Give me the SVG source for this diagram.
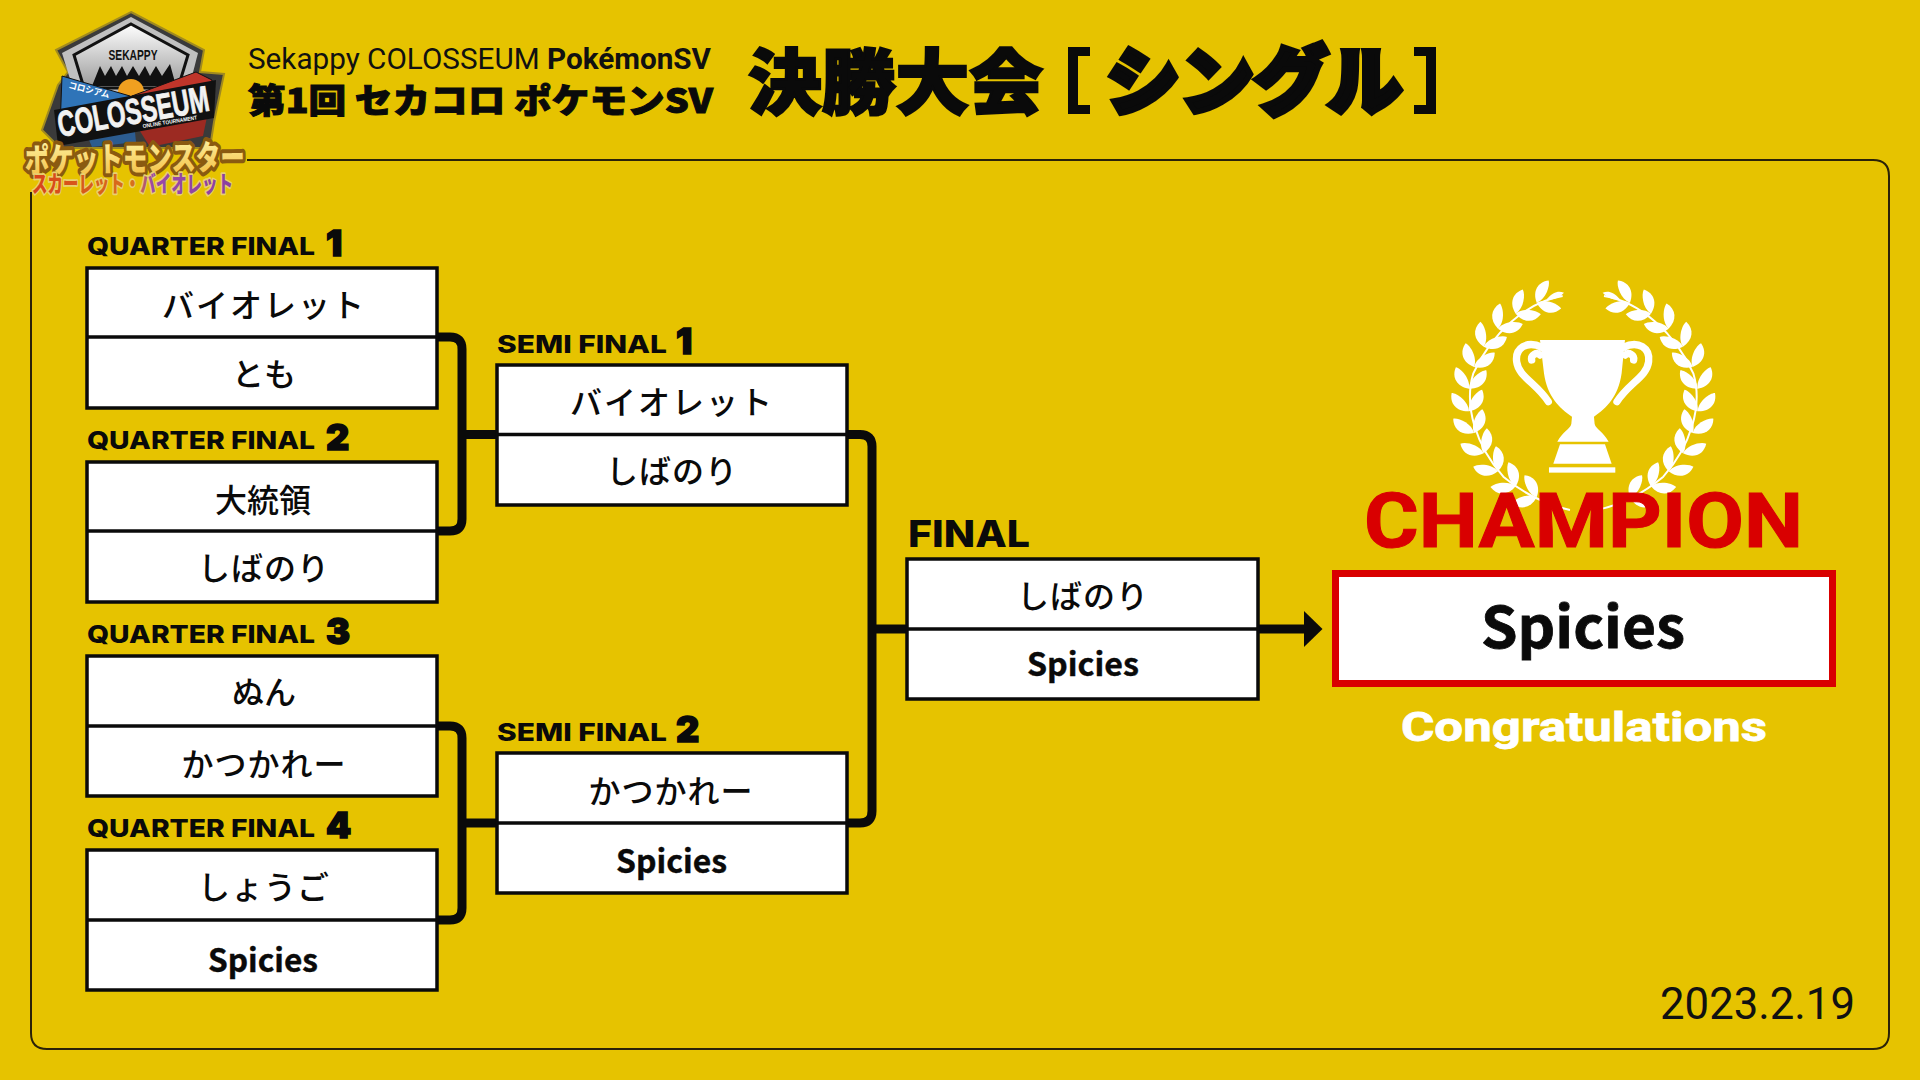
<svg xmlns="http://www.w3.org/2000/svg" width="1920" height="1080" viewBox="0 0 1920 1080">
<style>
.box{fill:#fff;stroke:#0a0a0a;stroke-width:3.500}
.div{stroke:#0a0a0a;stroke-width:3.500}
.conn{fill:none;stroke:#0a0a0a;stroke-width:9}
.n{font-family:"Noto Sans CJK JP","Noto Sans",sans-serif;font-size:32px;font-weight:500;fill:#0a0a0a;text-anchor:middle}
.b{font-family:"Noto Sans CJK JP","Noto Sans",sans-serif;font-size:32px;font-weight:700;fill:#0a0a0a;stroke:#0a0a0a;stroke-width:.4}
.lab{font-family:Inter,"Liberation Sans",sans-serif;font-size:25px;font-weight:800;fill:#0a0a0a}
.num{font-family:Inter,"Liberation Sans",sans-serif;font-size:36px;font-weight:900;fill:#0a0a0a;stroke:#0a0a0a;stroke-width:1.5}
.ttl{font-family:"Noto Sans CJK JP",sans-serif;font-weight:900;fill:#0a0a0a;stroke:#0a0a0a}
</style>
<defs>
<marker id="head" viewBox="0 0 18.500 36" refX="0" refY="18" markerUnits="userSpaceOnUse" markerWidth="18.500" markerHeight="36" orient="auto"><path d="M0 0L18.500 18L0 36Z" fill="#0a0a0a"/></marker>
<linearGradient id="metal" x1="0" y1="0" x2="0" y2="1"><stop offset="0" stop-color="#fff"/><stop offset="1" stop-color="#9a9a9a"/></linearGradient>
<linearGradient id="pk" x1="0" y1="0" x2="0" y2="1"><stop offset="0" stop-color="#fffbb0"/><stop offset="1" stop-color="#f2b93a"/></linearGradient>
<linearGradient id="sv" x1="0" y1="0" x2="1" y2="0"><stop offset="0" stop-color="#d8421a"/><stop offset=".5" stop-color="#d8701a"/><stop offset=".6" stop-color="#9a4aa8"/><stop offset="1" stop-color="#8a3fa0"/></linearGradient>
<g id="lp"><path d="M0 0C-36-2-56-28-46-60C-30-58 2-30 0 0Z"/><path d="M0 0C36-2 56-28 46-60C30-58-2-30 0 0Z"/></g>
<g id="branch" fill="#fff">
<path d="M668 108C560 125 455 220 400 340C370 440 410 560 490 650C550 700 620 735 690 750" fill="none" stroke="#fff" stroke-width="6"/>
<path d="M620 118C640 95 655 92 672 98C655 115 640 120 620 118Z"/>
<use href="#lp" transform="translate(590 128) rotate(66)"/>
<use href="#lp" transform="translate(527 161) rotate(54)"/>
<use href="#lp" transform="translate(474 206) rotate(42)"/>
<use href="#lp" transform="translate(431 260) rotate(30)"/>
<use href="#lp" transform="translate(402 321) rotate(18)"/>
<use href="#lp" transform="translate(387 386) rotate(6)"/>
<use href="#lp" transform="translate(387 454) rotate(-6)"/>
<use href="#lp" transform="translate(402 519) rotate(-18)"/>
<use href="#lp" transform="translate(431 580) rotate(-30)"/>
<use href="#lp" transform="translate(474 634) rotate(-42)"/>
<use href="#lp" transform="translate(527 679) rotate(-54)"/>
<use href="#lp" transform="translate(590 712) rotate(-66)"/>
</g>
</defs>
<rect width="1920" height="1080" fill="#e6c300"/>
<path id="panel" d="M247 160H1873Q1889 160 1889 176V1033Q1889 1049 1873 1049H47Q31 1049 31 1033V192" fill="none" stroke="#2a2208" stroke-width="2"/>

<g id="logo">
<path d="M131 12L204 50L200 72L224 74L214 122L210 148L60 148L42 130L58 85L68 72L56 50Z" fill="#3a3a3a" stroke="#a08a20" stroke-width="2"/>
<path d="M131 17L198 53L188 92L74 92L62 53Z" fill="#c0c0c0"/>
<path d="M131 24L188 55L178 88L84 88L74 55Z" fill="url(#metal)" stroke="#111" stroke-width="3"/>
<path d="M92 86L100 66L105 76L111 66L116 76L122 66L127 76L133 66L139 76L145 66L150 76L156 66L162 76L170 64L176 86Z" fill="#111"/>
<circle cx="131" cy="92" r="13" fill="#f0a020"/>
<path d="M62 76L130 96L130 122L60 128Z" fill="#2f74b8" stroke="#111"/>
<path d="M132 96L196 72L212 80L208 112L132 128Z" fill="#c0352a" stroke="#111"/>
<path d="M84 128L134 122L136 142L92 147Z" fill="#2c5c90"/>
<path d="M138 128L208 112L203 136L150 147Z" fill="#9c2a22"/>
<path d="M54 110L216 80L214 118L58 146Z" fill="#111"/>
<text x="133" y="60" font-family="Liberation Sans Narrow,Liberation Sans,sans-serif" font-size="15" font-weight="700" fill="#111" text-anchor="middle" textLength="49" lengthAdjust="spacingAndGlyphs">SEKAPPY</text>
<text x="68" y="88" transform="rotate(14 68 88)" font-family="Noto Sans CJK JP,sans-serif" font-size="9" font-weight="700" fill="#fff" textLength="42" lengthAdjust="spacingAndGlyphs">コロシアム</text>
<text x="60" y="137" transform="rotate(-10 60 137)" font-family="Liberation Sans Narrow,Liberation Sans,sans-serif" font-size="36" font-weight="700" fill="#f2f2f2" stroke="#f2f2f2" stroke-width=".9" textLength="153" lengthAdjust="spacingAndGlyphs">COLOSSEUM</text>
<text x="143" y="128" transform="rotate(-9 143 128)" font-family="Liberation Sans,sans-serif" font-size="5.500" font-weight="700" fill="#fff" textLength="55" lengthAdjust="spacingAndGlyphs">ONLINE TOURNAMENT</text>
<text x="25" y="173" font-family="Noto Sans CJK JP,sans-serif" font-size="34" font-weight="900" fill="url(#pk)" stroke="#8a5a10" stroke-width="8" stroke-linejoin="round" paint-order="stroke" textLength="220" lengthAdjust="spacingAndGlyphs" transform="rotate(-1 25 173)">ポケットモンスター</text>
<text x="32" y="192" font-family="Noto Sans CJK JP,sans-serif" font-size="23" font-weight="900" fill="url(#sv)" stroke="#e8d070" stroke-width="3.500" stroke-linejoin="round" paint-order="stroke" textLength="201" lengthAdjust="spacingAndGlyphs">スカーレット・バイオレット</text>
</g>

<g id="title">
<text x="248" y="69" font-family="Roboto,'Noto Sans',sans-serif" font-size="30" fill="#111" textLength="463" lengthAdjust="spacingAndGlyphs">Sekappy COLOSSEUM <tspan font-weight="700">PokémonSV</tspan></text>
<text x="248" y="113" font-family="Noto Sans CJK JP,sans-serif" font-size="34" font-weight="900" fill="#0a0a0a" stroke="#0a0a0a" stroke-width="1" textLength="465" lengthAdjust="spacingAndGlyphs">第1回 セカコロ ポケモンSV</text>
<text class="ttl" x="748" y="108" font-size="71" stroke-width="2.500" textLength="295" lengthAdjust="spacingAndGlyphs">決勝大会</text>
<text class="ttl" x="1106" y="108" font-size="74" stroke-width="6" stroke-linejoin="miter" textLength="296" lengthAdjust="spacingAndGlyphs">シングル</text>
<path d="M1090 47H1068V114H1090V105H1078V56H1090ZM1414 47H1436V114H1414V105H1426V56H1414Z" fill="#0a0a0a"/>
</g>

<g id="connectors">
<path class="conn" d="M437 337H450Q462 337 462 349V519Q462 531 450 531H437M462 434.5H497"/>
<path class="conn" d="M437 726H450Q462 726 462 738V908Q462 920 450 920H437M462 823H497"/>
<path class="conn" d="M847 434.5H860Q872 434.5 872 446.5V811Q872 823 860 823H847M872 629H907"/>
<path class="conn" d="M1258 629H1304" marker-end="url(#head)"/>
</g>

<g id="qf1"><text class="lab" x="87" y="255" textLength="228" lengthAdjust="spacingAndGlyphs">QUARTER FINAL</text><text class="num" x="326" y="256">1</text><rect class="box" x="87" y="268" width="350" height="140"/><line class="div" x1="87" x2="437" y1="337" y2="337"/><text class="n" x="264" y="317" letter-spacing="2">バイオレット</text><text class="n" x="264" y="386">とも</text></g>
<g id="qf2"><text class="lab" x="87" y="449" textLength="228" lengthAdjust="spacingAndGlyphs">QUARTER FINAL</text><text class="num" x="326" y="450">2</text><rect class="box" x="87" y="462" width="350" height="140"/><line class="div" x1="87" x2="437" y1="531" y2="531"/><text class="n" x="263" y="512">大統領</text><text class="n" x="264" y="580" letter-spacing="1">しばのり</text></g>
<g id="qf3"><text class="lab" x="87" y="643" textLength="228" lengthAdjust="spacingAndGlyphs">QUARTER FINAL</text><text class="num" x="326" y="644">3</text><rect class="box" x="87" y="656" width="350" height="140"/><line class="div" x1="87" x2="437" y1="726" y2="726"/><text class="n" x="264" y="704">ぬん</text><text class="n" x="264" y="776" letter-spacing="1">かつかれー</text></g>
<g id="qf4"><text class="lab" x="87" y="837" textLength="228" lengthAdjust="spacingAndGlyphs">QUARTER FINAL</text><text class="num" x="326" y="838">4</text><rect class="box" x="87" y="850" width="350" height="140"/><line class="div" x1="87" x2="437" y1="920" y2="920"/><text class="n" x="264" y="899" letter-spacing="1">しょうご</text><text class="b" x="208" y="972" textLength="110" lengthAdjust="spacingAndGlyphs">Spicies</text></g>
<g id="sf1"><text class="lab" x="497" y="353" textLength="170" lengthAdjust="spacingAndGlyphs">SEMI FINAL</text><text class="num" x="676" y="354">1</text><rect class="box" x="497" y="365" width="350" height="140"/><line class="div" x1="497" x2="847" y1="434.5" y2="434.5"/><text class="n" x="672" y="414" letter-spacing="2">バイオレット</text><text class="n" x="672" y="483" letter-spacing="1">しばのり</text></g>
<g id="sf2"><text class="lab" x="497" y="741" textLength="170" lengthAdjust="spacingAndGlyphs">SEMI FINAL</text><text class="num" x="676" y="742">2</text><rect class="box" x="497" y="753" width="350" height="140"/><line class="div" x1="497" x2="847" y1="823" y2="823"/><text class="n" x="671" y="803" letter-spacing="1">かつかれー</text><text class="b" x="616" y="873" textLength="111" lengthAdjust="spacingAndGlyphs">Spicies</text></g>
<g id="final"><text x="908" y="547" font-family="Inter,'Liberation Sans',sans-serif" font-size="37" font-weight="800" fill="#0a0a0a" textLength="122" lengthAdjust="spacingAndGlyphs">FINAL</text><rect class="box" x="907" y="559" width="351" height="140"/><line class="div" x1="907" x2="1258" y1="629" y2="629"/><text class="n" x="1083" y="608" letter-spacing="1">しばのり</text><text class="b" x="1027" y="676" textLength="112" lengthAdjust="spacingAndGlyphs">Spicies</text></g>

<g id="trophy" transform="translate(1340 260) scale(.3333)" fill="#fff">
<use href="#branch"/>
<use href="#branch" transform="translate(1460 0) scale(-1 1)"/>
<path d="M600 240H855L845 340C835 410 800 445 762 470L764 492C768 508 790 515 806 545H652C668 515 690 508 694 492L696 470C658 445 622 410 612 340Z"/>
<path d="M660 553H795L815 611H640Z"/>
<rect x="627" y="622" width="199" height="16"/>
<path d="M606 262C560 240 525 265 530 305C535 350 590 370 625 425M575 300C572 285 590 275 600 285" fill="none" stroke="#fff" stroke-width="22" stroke-linecap="round"/>
<path d="M850 262C896 240 931 265 926 305C921 350 866 370 831 425M881 300C884 285 866 275 856 285" fill="none" stroke="#fff" stroke-width="22" stroke-linecap="round"/>
</g>
<g id="champion">
<text x="1364" y="547" font-family="Roboto,sans-serif" font-size="76" font-weight="700" fill="#d90000" stroke="#d90000" stroke-width="1" textLength="439" lengthAdjust="spacingAndGlyphs">CHAMPION</text>
<rect x="1335.500" y="573.500" width="497" height="110" fill="#fff" stroke="#d90000" stroke-width="7"/>
<text x="1481" y="648" font-family="Noto Sans CJK JP,sans-serif" font-size="57" font-weight="700" fill="#0a0a0a" stroke="#0a0a0a" stroke-width=".8" textLength="204" lengthAdjust="spacingAndGlyphs">Spicies</text>
<text x="1401" y="741" font-family="Roboto,sans-serif" font-size="41" font-weight="700" fill="#fff" stroke="#fff" stroke-width=".8" textLength="366" lengthAdjust="spacingAndGlyphs">Congratulations</text>
</g>
<text id="date" x="1660" y="1019" font-family="Roboto,sans-serif" font-size="44" fill="#111" textLength="195" lengthAdjust="spacingAndGlyphs">2023.2.19</text>
</svg>
